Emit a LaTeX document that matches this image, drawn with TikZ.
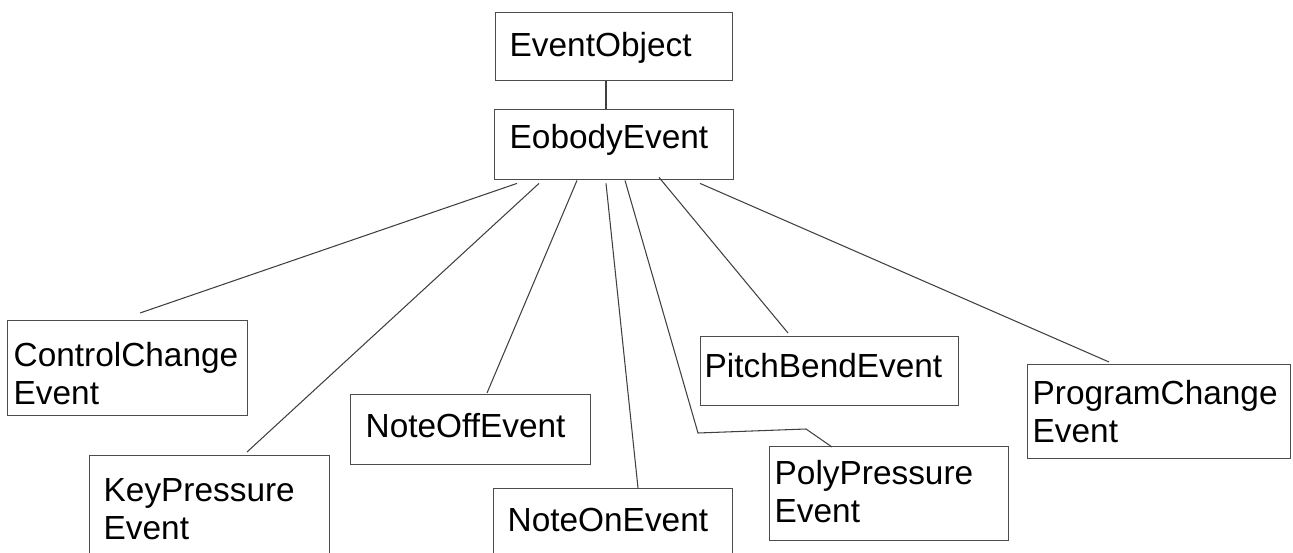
\documentclass[tikz,border=0pt]{standalone}
\usepackage{fontspec}
\setmainfont{Liberation Sans}
\usetikzlibrary{calc}

\begin{document}
\begin{tikzpicture}[x=0.02cm,y=-0.02cm,
  %% box: width, height, top-to-baseline, side padding (all in pixels)
  evbox/.style n args={4}{draw=black!70,line width=0.8pt,anchor=north west,
    inner ysep=0pt,align=left,inner xsep={#4*0.02cm},
    text width={(#1-2*#4)*0.02cm},
    text height={#3*0.02cm},text depth={(#2-#3)*0.02cm},
    font=\fontsize{19}{21.6}\selectfont},
  link/.style={draw=black!75,line width=0.6pt}]

  \clip (0,0) rectangle (1293,553);

  %% the two top boxes
  \node [evbox={237}{68}{44}{14}] (eo) at (495,12) {EventObject};
  \node [evbox={239}{70}{39}{15}] (eb) at (494,109) {EobodyEvent};

  %% the derived events
  \node [evbox={240}{95}{46}{6}] (cc) at (7,320) {ControlChange\\Event};
  \node [evbox={240}{120}{46}{14}] (kp) at (89,455) {KeyPressure\\Event};
  \node [evbox={240}{70}{43}{15}] (noff) at (350,394) {NoteOffEvent};
  \node [evbox={239}{90}{43}{14}] (non) at (493,488) {NoteOnEvent};
  \node [evbox={258}{69}{41}{4}] (pb) at (700,336) {PitchBendEvent};
  \node [evbox={239}{94}{38}{5}] (poly) at (769,446) {PolyPressure\\Event};
  \node [evbox={263}{94}{40}{5}] (pc) at (1027,364) {ProgramChange\\Event};

  \draw [link] ($(eo.south west)+(111,0)$) -- ($(eb.north west)+(112,0)$);

  \draw [link] ($(eb.south west)+(23,3)$) -- ($(cc.north west)+(133,-7)$);
  \draw [link] ($(eb.south west)+(45,3)$) -- ($(kp.north west)+(158,-3)$);
  \draw [link] ($(eb.south west)+(83,0)$) -- ($(noff.north west)+(137,-1)$);
  \draw [link] ($(eb.south west)+(112,3)$) -- ($(non.north west)+(145,0)$);
  %% this one bends before it reaches its box
  \draw [link] ($(eb.south west)+(131,0)$) -- (698,433) -- (806,429)
    -- ($(poly.north west)+(63,1)$);
  \draw [link] ($(eb.south west)+(165,-3)$) -- ($(pb.north west)+(88,-3)$);
  \draw [link] ($(eb.south west)+(206,3)$) -- ($(pc.north west)+(82,-2)$);
\end{tikzpicture}
\end{document}
